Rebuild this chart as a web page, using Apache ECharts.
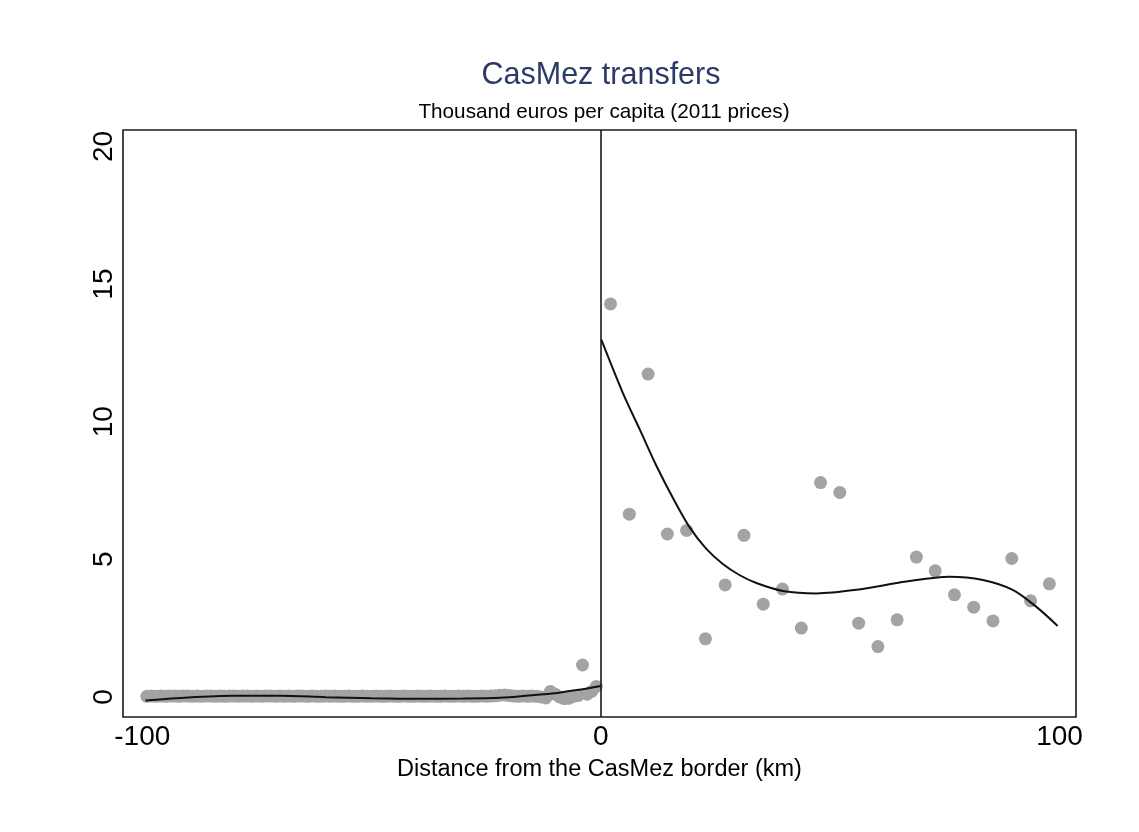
<!DOCTYPE html>
<html>
<head>
<meta charset="utf-8">
<script src="https://cdn.jsdelivr.net/npm/echarts@6/dist/echarts.min.js"></script>
<style>
html,body{margin:0;padding:0;background:#fff;}
#chart{width:1139px;height:832px;}
</style>
</head>
<body>
<div id="chart"></div>
<script>
// ---- Data ----
const titleText = 'CasMez transfers';
const subtitleText = 'Thousand euros per capita (2011 prices)';
const xAxisTitle = 'Distance from the CasMez border (km)';
const xTickValues = [-100, 0, 100];
const yTickValues = [0, 5, 10, 15, 20];

// Left of the border (km bins)
const leftX = [-99,-98,-97,-96,-95,-94,-93,-92,-91,-90,-89,-88,-87,-86,-85,-84,-83,-82,-81,-80,
  -79,-78,-77,-76,-75,-74,-73,-72,-71,-70,-69,-68,-67,-66,-65,-64,-63,-62,-61,-60,
  -59,-58,-57,-56,-55,-54,-53,-52,-51,-50,-49,-48,-47,-46,-45,-44,-43,-42,-41,-40,
  -39,-38,-37,-36,-35,-34,-33,-32,-31,-30,-29,-28,-27,-26,-25,-24,-23,-22,-21,-20,
  -19,-18,-17,-16,-15,-14,-13,-12,-11,-10,-9,-8,-7,-6,-5,-4,-3,-2,-1];
const leftY = [0.02,0.03,0.02,0.03,0.02,0.03,0.03,0.02,0.03,0.03,0.02,0.03,0.02,0.03,0.03,0.02,0.03,0.02,0.03,0.03,
  0.02,0.03,0.03,0.02,0.03,0.02,0.03,0.03,0.02,0.03,0.02,0.03,0.02,0.03,0.03,0.02,0.03,0.02,0.02,0.03,
  0.02,0.03,0.02,0.02,0.03,0.02,0.02,0.03,0.02,0.02,0.03,0.02,0.02,0.03,0.02,0.02,0.03,0.02,0.02,0.03,
  0.02,0.02,0.03,0.02,0.02,0.03,0.02,0.02,0.03,0.02,0.03,0.02,0.02,0.03,0.02,0.03,0.04,0.06,0.07,0.05,
  0.03,0.02,0.03,0.02,0.03,0.02,0.00,-0.04,0.20,0.10,0.00,-0.06,-0.05,0.02,0.05,1.16,0.10,0.20,0.38];

// Right of the border (bins)
const rightX = [2.1,6.2,10.3,14.5,18.7,22.8,27.1,31.2,35.4,39.6,43.7,47.9,52.1,56.2,60.4,64.6,68.8,72.9,77.1,81.3,85.5,89.6,93.7,97.8];
const rightY = [14.28,6.64,11.73,5.92,6.05,2.11,4.07,5.87,3.37,3.92,2.50,7.79,7.43,2.68,1.83,2.80,5.08,4.58,3.71,3.26,2.76,5.03,3.49,4.11];

// Fitted curves
const fitLeftX = [-99.3,-90,-80,-70,-60,-50,-40,-30,-22,-15,-10,-7.5,-4,0];
const fitLeftY = [-0.13,-0.02,0.04,0.04,-0.01,-0.05,-0.07,-0.06,-0.03,0.06,0.13,0.2,0.28,0.4];
const fitRightX = [0.1,4.8,8.5,12.1,15.8,19.4,23,26.6,30.2,33.9,39.7,47,55.7,66.6,76,83.3,89.8,94.9,99.6];
const fitRightY = [12.98,11.04,9.71,8.4,7.2,6.15,5.38,4.83,4.43,4.14,3.85,3.76,3.89,4.19,4.37,4.25,3.89,3.28,2.58];

const zip = (a, b) => a.map((v, i) => [v, b[i]]);
const FONT = "'Liberation Sans', Arial, Helvetica, sans-serif";

const chart = echarts.init(document.getElementById('chart'));
chart.setOption({
  backgroundColor: '#fff',
  animation: false,
  textStyle: { fontFamily: FONT },
  graphic: [
    { type: 'text', x: 601, y: 76, style: { text: titleText, align: 'center', verticalAlign: 'middle', fontSize: 30.5, fontFamily: FONT, fill: '#2b3a67' } },
    { type: 'text', x: 604, y: 112, style: { text: subtitleText, align: 'center', verticalAlign: 'middle', fontSize: 20.7, fontFamily: FONT, fill: '#000' } }
  ],
  grid: { left: 123, right: 63, top: 130, bottom: 115, show: true, borderColor: '#1a1a1a', borderWidth: 1.6, backgroundColor: '#fff', containLabel: false },
  xAxis: {
    type: 'value', min: -104.2, max: 103.6,
    axisLine: { show: false }, axisTick: { show: false }, splitLine: { show: false },
    axisLabel: { customValues: xTickValues, fontSize: 28, color: '#000', margin: 6, fontFamily: FONT },
    name: xAxisTitle, nameLocation: 'middle', nameGap: 41,
    nameTextStyle: { fontSize: 23.5, color: '#000', fontFamily: FONT }
  },
  yAxis: {
    type: 'value', min: -0.73, max: 20.6,
    axisLine: { show: false }, axisTick: { show: false }, splitLine: { show: false },
    axisLabel: { customValues: yTickValues, rotate: 90, fontSize: 28, color: '#000', margin: 5, fontFamily: FONT }
  },
  series: [
    { type: 'scatter', data: zip(leftX, leftY), symbolSize: 13, itemStyle: { color: '#a3a3a3', opacity: 1 }, silent: true, z: 2,
      markLine: { silent: true, symbol: 'none', label: { show: false }, lineStyle: { color: '#1a1a1a', width: 1.6, type: 'solid' }, data: [{ xAxis: 0 }] } },
    { type: 'scatter', data: zip(rightX, rightY), symbolSize: 13, itemStyle: { color: '#a3a3a3', opacity: 1 }, silent: true, z: 2 },
    { type: 'line', data: zip(fitLeftX, fitLeftY), smooth: 0.3, showSymbol: false, lineStyle: { color: '#111', width: 2 }, silent: true, z: 3 },
    { type: 'line', data: zip(fitRightX, fitRightY), smooth: 0.3, showSymbol: false, lineStyle: { color: '#111', width: 2 }, silent: true, z: 3 }
  ]
});
</script>
</body>
</html>
